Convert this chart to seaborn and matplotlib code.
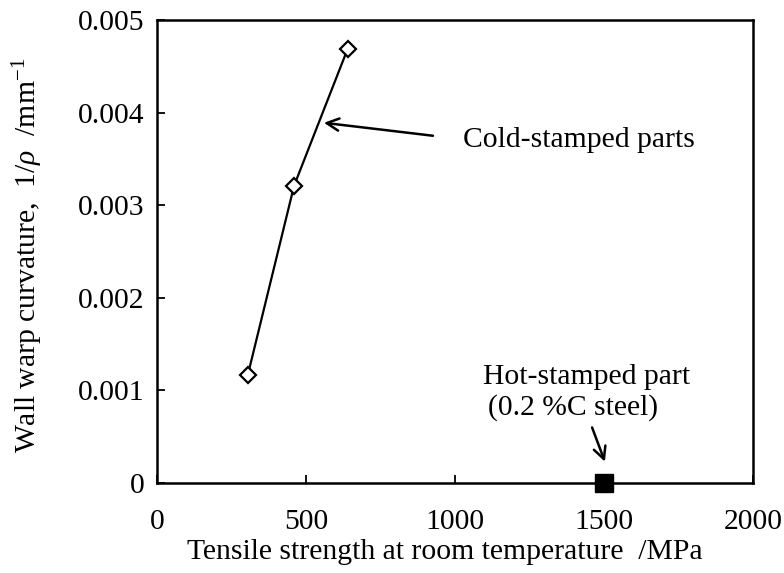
import matplotlib
matplotlib.use("Agg")
import matplotlib.pyplot as plt
import seaborn as sns
import pandas as pd

# Data
cold_strength = [305, 460, 640]          # MPa
cold_curvature = [0.00117, 0.00321, 0.00469]  # 1/mm
hot_strength = [1500]
hot_curvature = [0.0]
x_ticks = [0, 500, 1000, 1500, 2000]
y_ticks = [0, 0.001, 0.002, 0.003, 0.004, 0.005]
y_tick_labels = ["0", "0.001", "0.002", "0.003", "0.004", "0.005"]

sns.set_style("ticks")
plt.rcParams["font.family"] = ["Liberation Serif", "DejaVu Serif"]
plt.rcParams["mathtext.fontset"] = "custom"
plt.rcParams["mathtext.rm"] = "Liberation Serif"
plt.rcParams["mathtext.it"] = "Liberation Serif:italic"
plt.rcParams["text.color"] = "black"
plt.rcParams["axes.labelcolor"] = "black"

FS = 21.3

fig = plt.figure(figsize=(7.84, 5.73), dpi=100)
ax = fig.add_axes([157/784, 1-483/573, (753-157)/784, (483-20)/573])

cold = pd.DataFrame({"x": cold_strength, "y": cold_curvature})
hot = pd.DataFrame({"x": hot_strength, "y": hot_curvature})

sns.lineplot(data=cold, x="x", y="y", ax=ax, color="black", lw=1.6,
             marker="D", markersize=8.5, markerfacecolor="white",
             markeredgecolor="black", markeredgewidth=1.6, sort=False)
ax.plot(hot["x"], hot["y"], linestyle="none", marker="s", markersize=13,
        color="black", clip_on=False, zorder=5)

ax.set_xlim(0, 2000)
ax.set_ylim(0, 0.005)
ax.set_xticks(x_ticks)
ax.set_yticks(y_ticks)
ax.set_yticklabels(y_tick_labels)
ax.tick_params(direction="in", length=6, width=1.3, labelsize=FS,
               colors="black")
ax.tick_params(axis="x", pad=19)
ax.tick_params(axis="y", pad=9)
for s in ax.spines.values():
    s.set_linewidth(1.8)
    s.set_color("black")

ax.set_xlabel("Tensile strength at room temperature  /MPa", fontsize=FS,
              va="center")
ax.set_ylabel(r"Wall warp curvature,  1/$\rho$  /mm$^{-1}$", fontsize=FS,
              va="center")
ax.xaxis.set_label_coords((445-157)/596, (483-552)/463)
ax.yaxis.set_label_coords((28-157)/596, (483-255)/463)

ax.annotate("", xy=(560, 0.00389), xytext=(926, 0.00375),
            arrowprops=dict(arrowstyle="->", lw=1.8, color="black",
                            mutation_scale=22, shrinkA=0, shrinkB=0))
ax.text(1027, 0.00370, "Cold-stamped parts", fontsize=FS, ha="left",
        va="center")

ax.annotate("", xy=(1503, 0.00023), xytext=(1460, 0.0006),
            arrowprops=dict(arrowstyle="->", lw=1.8, color="black",
                            mutation_scale=22, shrinkA=0, shrinkB=0))
ax.text(1440, 0.00115, "Hot-stamped part", fontsize=FS, ha="center",
        va="center")
ax.text(1396, 0.00081, "(0.2 %C steel)", fontsize=FS, ha="center",
        va="center")

fig.savefig("out.png", dpi=100)
